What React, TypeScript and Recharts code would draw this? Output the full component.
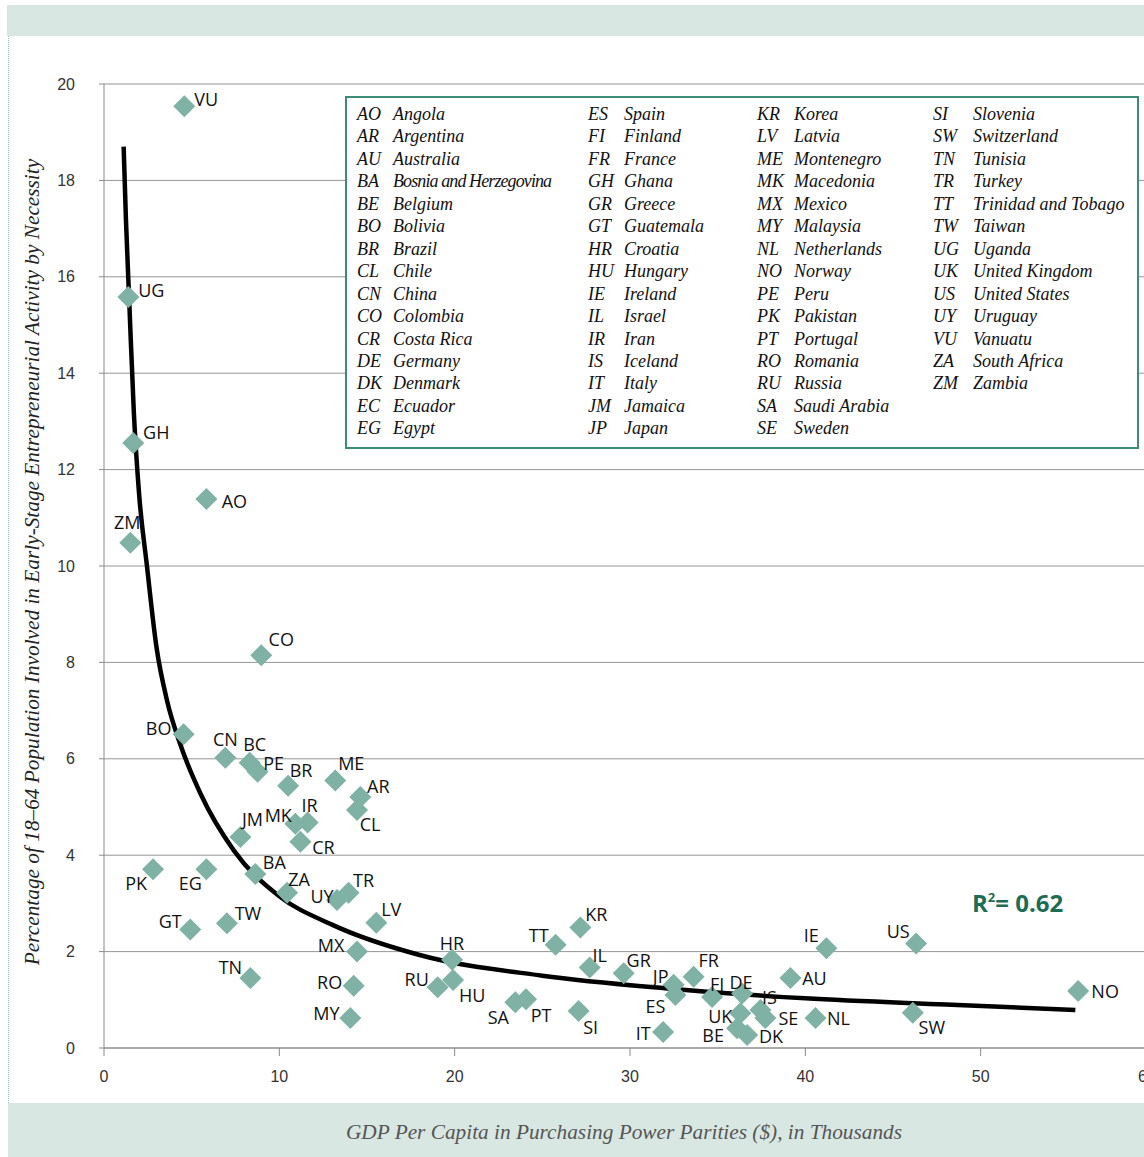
import React from 'react';
import {
  ComposedChart,
  Scatter,
  Line,
  XAxis,
  YAxis,
  CartesianGrid,
} from 'recharts';

// country codes, GDP per capita (PPP, $ thousands) and necessity TEA rate (%)
const codes = [
  'VU', 'UG', 'GH', 'AO', 'ZM', 'CO', 'BO', 'CN', 'BC', 'PE',
  'BR', 'ME', 'AR', 'CL', 'JM', 'MK', 'IR', 'CR', 'PK', 'EG',
  'BA', 'ZA', 'UY', 'TR', 'LV', 'GT', 'TW', 'MX', 'TN', 'RO',
  'MY', 'HR', 'RU', 'HU', 'SA', 'PT', 'SI', 'TT', 'KR', 'IL',
  'GR', 'JP', 'ES', 'IT', 'FR', 'FI', 'DE', 'UK', 'BE', 'DK',
  'IS', 'SE', 'AU', 'NL', 'IE', 'US', 'SW', 'NO',
];
const gdpPerCapita = [
  4.58, 1.39, 1.67, 5.84, 1.5, 8.97, 4.54, 6.92, 8.31, 8.76,
  10.5, 13.19, 14.62, 14.43, 7.78, 10.91, 11.61, 11.2, 2.8, 5.84,
  8.63, 10.44, 13.29, 13.95, 15.53, 4.92, 7.01, 14.43, 8.35, 14.24,
  14.05, 19.85, 19.03, 19.91, 23.46, 24.07, 27.07, 25.76, 27.17, 27.7,
  29.64, 32.49, 32.59, 31.89, 33.63, 34.68, 36.39, 36.29, 36.11, 36.68,
  37.44, 37.72, 39.15, 40.58, 41.2, 46.32, 46.13, 55.56,
];
const necessityRate = [
  19.54, 15.58, 12.55, 11.39, 10.48, 8.15, 6.51, 6.02, 5.92, 5.73,
  5.44, 5.55, 5.21, 4.94, 4.38, 4.65, 4.68, 4.28, 3.71, 3.71,
  3.61, 3.22, 3.07, 3.22, 2.6, 2.46, 2.59, 2.0, 1.45, 1.29,
  0.62, 1.83, 1.26, 1.41, 0.95, 1.01, 0.77, 2.14, 2.5, 1.67,
  1.55, 1.31, 1.1, 0.33, 1.48, 1.06, 1.13, 0.72, 0.41, 0.27,
  0.79, 0.62, 1.45, 0.62, 2.07, 2.17, 0.73, 1.18,
];

// power trend line
const trendGdp = [1.12, 1.25, 1.45, 1.7, 2.0, 2.45, 3.0, 3.6, 4.35, 5.5, 7.4, 10, 13, 18, 25, 32, 40, 48, 55.4];
const trendRate = [18.7, 17.2, 15.4, 13.2, 11.5, 10.0, 8.3, 7.2, 6.3, 5.28, 4.1, 3.15, 2.56, 1.93, 1.5, 1.24, 1.03, 0.9, 0.79];

const xTicks = [0, 10, 20, 30, 40, 50, 60];
const yTicks = [0, 2, 4, 6, 8, 10, 12, 14, 16, 18, 20];

const legendCodes = [
  'AO', 'AR', 'AU', 'BA', 'BE', 'BO', 'BR', 'CL', 'CN', 'CO', 'CR', 'DE', 'DK', 'EC', 'EG',
  'ES', 'FI', 'FR', 'GH', 'GR', 'GT', 'HR', 'HU', 'IE', 'IL', 'IR', 'IS', 'IT', 'JM', 'JP',
  'KR', 'LV', 'ME', 'MK', 'MX', 'MY', 'NL', 'NO', 'PE', 'PK', 'PT', 'RO', 'RU', 'SA', 'SE',
  'SI', 'SW', 'TN', 'TR', 'TT', 'TW', 'UG', 'UK', 'US', 'UY', 'VU', 'ZA', 'ZM',
];
const legendNames = [
  'Angola', 'Argentina', 'Australia', 'Bosnia and Herzegovina', 'Belgium', 'Bolivia', 'Brazil', 'Chile',
  'China', 'Colombia', 'Costa Rica', 'Germany', 'Denmark', 'Ecuador', 'Egypt',
  'Spain', 'Finland', 'France', 'Ghana', 'Greece', 'Guatemala', 'Croatia', 'Hungary', 'Ireland',
  'Israel', 'Iran', 'Iceland', 'Italy', 'Jamaica', 'Japan',
  'Korea', 'Latvia', 'Montenegro', 'Macedonia', 'Mexico', 'Malaysia', 'Netherlands', 'Norway',
  'Peru', 'Pakistan', 'Portugal', 'Romania', 'Russia', 'Saudi Arabia', 'Sweden',
  'Slovenia', 'Switzerland', 'Tunisia', 'Turkey', 'Trinidad and Tobago', 'Taiwan', 'Uganda',
  'United Kingdom', 'United States', 'Uruguay', 'Vanuatu', 'South Africa', 'Zambia',
];

// where each label sits relative to its marker (px)
const labelOffset: Record<string, [number, number]> = {
  VU: [22, -7], UG: [23, -7], GH: [23, -11], AO: [28, 2], ZM: [-3, -21], CO: [20, -16],
  BO: [-25, -6], CN: [0, -19], BC: [5, -19], PE: [16, -9], BR: [13, -16], ME: [16, -17],
  AR: [18, -11], CL: [13, 14], JM: [12, -18], MK: [-17, -9], IR: [2, -17], CR: [23, 5],
  PK: [-17, 14], EG: [-16, 14], BA: [19, -12], ZA: [12, -14], UY: [-15, -4], TR: [15, -13],
  LV: [15, -14], GT: [-20, -8], TW: [21, -10], MX: [-26, -7], TN: [-20, -11], RO: [-24, -4],
  MY: [-24, -5], HR: [0, -17], RU: [-21, -8], HU: [19, 15], SA: [-17, 15], PT: [15, 16],
  SI: [12, 16], TT: [-17, -10], KR: [16, -14], IL: [10, -13], GR: [15, -13], JP: [-13, -9],
  ES: [-20, 11], IT: [-20, 1], FR: [15, -17], FI: [5, -13], DE: [-1, -12], UK: [-20, 3],
  BE: [-24, 7], DK: [24, 1], IS: [9, -13], SE: [23, 0], AU: [24, 0], NL: [23, 0],
  IE: [-15, -13], US: [-18, -12], SW: [19, 14], NO: [27, 0],
};

const points = codes.map((code, i) => ({ code, x: gdpPerCapita[i], y: necessityRate[i] }));
const trend = trendGdp.map((x, i) => ({ x, y: trendRate[i] }));

const MARKER = '#7fb2a4';
const sans = '"Open Sans", "Noto Sans", sans-serif';
const serif = '"Liberation Serif", "DejaVu Serif", serif';
const tickFont = '"Liberation Sans", Arial, sans-serif';

const Diamond = (props: any) => {
  const { cx, cy, payload } = props;
  if (cx == null || cy == null) return null;
  const r = 11;
  const [dx, dy] = labelOffset[payload.code] || [20, 0];
  return (
    <g>
      <polygon
        points={`${cx},${cy - r} ${cx + r},${cy} ${cx},${cy + r} ${cx - r},${cy}`}
        fill={MARKER}
      />
      <text
        x={cx + dx}
        y={cy + dy}
        textAnchor="middle"
        dominantBaseline="central"
        fontFamily={sans}
        fontSize={18}
        fill="#111"
      >
        {payload.code}
      </text>
    </g>
  );
};

// the last x label runs off the page edge, as in the original
const XTick = (props: any) => {
  const { x, y, payload } = props;
  const shift = payload.value === 60 ? -9 : 0;
  return (
    <text x={x + shift} y={y} dy="0.71em" textAnchor="middle" fill="#333" fontSize={16} fontFamily={tickFont}>
      {payload.value}
    </text>
  );
};

const legendCols = [
  { code: 357, name: 393 },
  { code: 588, name: 624 },
  { code: 757, name: 794 },
  { code: 933, name: 973 },
];

export default function App() {
  return (
    <div style={{ position: 'absolute', left: 0, top: 0, width: 1144, height: 1157, overflow: 'hidden' }}>
      {/* background bands */}
      <div style={{ position: 'absolute', left: 7, top: 5, width: 1137, height: 31, background: '#d9e7e3' }} />
      <div style={{ position: 'absolute', left: 8, top: 1103, width: 1136, height: 54, background: '#d9e7e3' }} />
      <div style={{ position: 'absolute', left: 8, top: 36, width: 0, height: 1067, borderLeft: '1px dotted #8fc0b2' }} />

      <div style={{ position: 'absolute', left: 0, top: 0 }}>
        <ComposedChart
          width={1144}
          height={1157}
          margin={{ top: 84, right: -12, bottom: 79, left: 44 }}
        >
          <CartesianGrid vertical={false} stroke="#959595" strokeWidth={1} />
          <XAxis
            type="number"
            dataKey="x"
            domain={[0, 60]}
            ticks={xTicks}
            interval={0}
            allowDataOverflow
            height={30}
            tickSize={8}
            tickMargin={15}
            axisLine={{ stroke: '#8a8a8a' }}
            tickLine={{ stroke: '#8a8a8a' }}
            tick={<XTick />}
          />
          <YAxis
            type="number"
            dataKey="y"
            domain={[0, 20]}
            ticks={yTicks}
            interval={0}
            allowDataOverflow
            width={60}
            tickSize={5}
            tickMargin={24}
            axisLine={{ stroke: '#8a8a8a' }}
            tickLine={{ stroke: '#8a8a8a' }}
            tick={{ fill: '#333', fontSize: 16, fontFamily: tickFont }}
          />
          <Scatter data={points} dataKey="y" shape={Diamond} isAnimationActive={false} />
          <Line
            data={trend}
            dataKey="y"
            type="monotone"
            stroke="#000"
            strokeWidth={4.5}
            dot={false}
            activeDot={false}
            isAnimationActive={false}
          />
        </ComposedChart>
      </div>

      <svg
        width={1144}
        height={1157}
        style={{ position: 'absolute', left: 0, top: 0, pointerEvents: 'none' }}
      >
        {/* country key */}
        <rect x={346} y={97} width={792} height={351} fill="#fff" stroke="#3d8b77" strokeWidth={2} />
        {legendCodes.map((code, i) => {
          const col = legendCols[Math.floor(i / 15)];
          const y = 120 + (i % 15) * 22.45;
          const name = legendNames[i];
          return (
            <g key={code} fontFamily={serif} fontStyle="italic" fontSize={18} fill="#111">
              <text x={col.code} y={y}>{code}</text>
              <text x={col.name} y={y} letterSpacing={name.length > 20 ? -0.9 : 0}>{name}</text>
            </g>
          );
        })}

        {/* R squared */}
        <text x={972} y={912} fontFamily={sans} fontWeight={700} fontSize={24} fill="#1d6c54">
          <tspan>R</tspan>
          <tspan dy={-10} fontSize={13}>2</tspan>
          <tspan dy={10}>= 0.62</tspan>
        </text>

        {/* axis titles */}
        <text
          x={624}
          y={1132}
          textAnchor="middle"
          dominantBaseline="central"
          fontFamily={serif}
          fontStyle="italic"
          fontSize={21.3}
          fill="#555"
        >
          GDP Per Capita in Purchasing Power Parities ($), in Thousands
        </text>
        <text
          transform="translate(32, 562) rotate(-90)"
          textAnchor="middle"
          dominantBaseline="central"
          fontFamily={serif}
          fontStyle="italic"
          fontSize={21.3}
          fill="#222"
        >
          Percentage of 18–64 Population Involved in Early-Stage Entrepreneurial Activity by Necessity
        </text>
      </svg>
    </div>
  );
}
